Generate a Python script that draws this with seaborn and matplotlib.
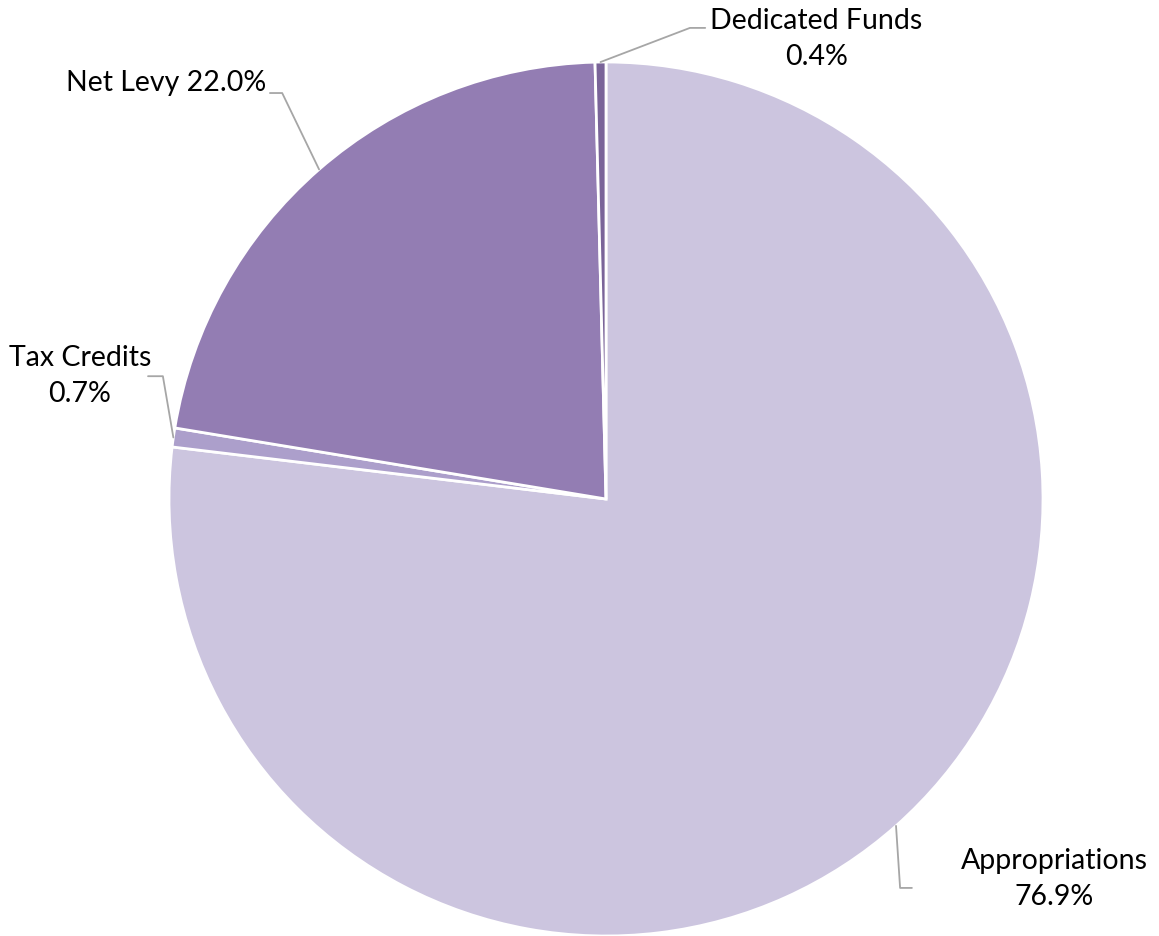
import numpy as np
import matplotlib
matplotlib.use('Agg')
import matplotlib.pyplot as plt
import seaborn as sns

# Revenue sources (share of total, %)
labels = ['Appropriations', 'Tax Credits', 'Net Levy', 'Dedicated Funds']
shares = [76.9, 0.7, 22.0, 0.4]
colors = ['#CCC5DF', '#AC9FCB', '#937DB3', '#7A6499']

# label text position and leader elbow/end points (data units, radius = 1)
label_pos = [(1.025, -0.870), (-1.204, 0.281), (-0.778, 0.952), (0.481, 1.053)]
elbows = [(0.673, -0.890), (-1.014, 0.281), (-0.741, 0.929), (0.192, 1.078)]
ends = [(0.700, -0.890), (-1.048, 0.281), (-0.769, 0.929), (0.227, 1.078)]

sns.set_style('white')
plt.rcParams['font.family'] = ['Lato', 'DejaVu Sans']

fig = plt.figure(figsize=(11.59, 9.36), dpi=100)
ax = fig.add_axes([169 / 1159, 0.0, 874 / 1159, 874 / 936])

wedges, _ = ax.pie(shares, colors=colors, startangle=90, counterclock=False,
                   radius=1, wedgeprops=dict(edgecolor='white', linewidth=2))
ax.set_xlim(-1, 1)
ax.set_ylim(-1, 1)
ax.set_aspect('equal')
ax.axis('off')

total = sum(shares)
for i, (w, lab, val) in enumerate(zip(wedges, labels, shares)):
    mid = np.deg2rad((w.theta1 + w.theta2) / 2)
    anchor = (np.cos(mid), np.sin(mid))
    xs = [anchor[0], elbows[i][0], ends[i][0]]
    ys = [anchor[1], elbows[i][1], ends[i][1]]
    ax.plot(xs, ys, color='#A6A6A6', lw=1.3, clip_on=False)
    pct = f'{val / total * 100:.1f}%'
    if lab == 'Net Levy':
        ax.text(label_pos[i][0], label_pos[i][1], f'{lab} {pct}', ha='right',
                va='center', fontsize=20.5, color='black')
    else:
        ax.text(label_pos[i][0], label_pos[i][1], f'{lab}\n{pct}', ha='center',
                va='center', fontsize=20.5, color='black', linespacing=1.45)

fig.savefig('out.png', dpi=100)
